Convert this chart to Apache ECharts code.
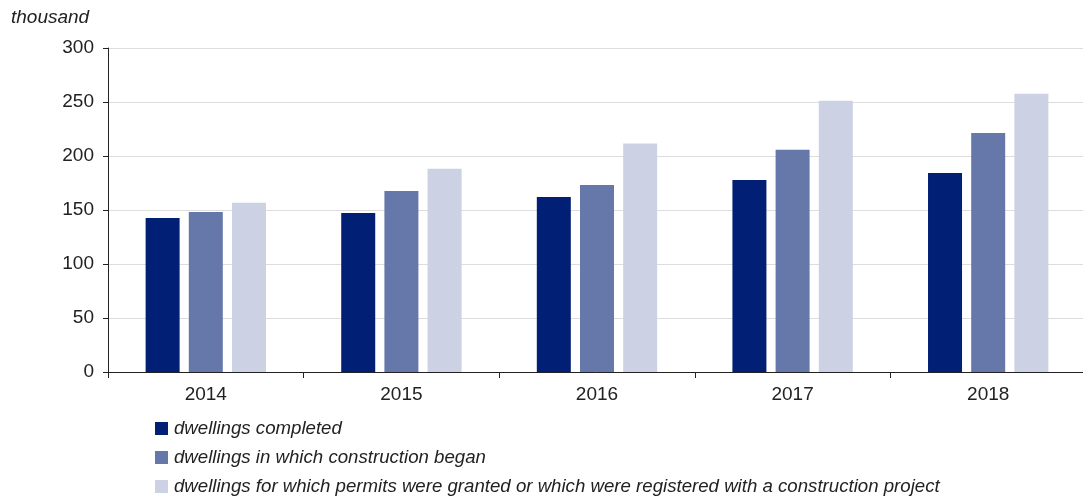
<!DOCTYPE html>
<html>
<head>
<meta charset="utf-8">
<script src="https://cdn.jsdelivr.net/npm/echarts@6/dist/echarts.min.js"></script>
<style>
  html, body { margin: 0; padding: 0; background: #fff; }
  #chart { width: 1083px; height: 497px; }
</style>
</head>
<body>
<div id="chart"></div>
<script>
const years = ['2014', '2015', '2016', '2017', '2018'];
const completed = [142.6, 147.2, 162.0, 177.8, 184.3];
const begun = [148.1, 167.6, 173.2, 205.9, 221.4];
const permitted = [156.8, 188.3, 211.5, 251.1, 257.6];
const seriesNames = [
    'dwellings completed',
    'dwellings in which construction began',
    'dwellings for which permits were granted or which were registered with a construction project'
];

const colors = ['#001f75', '#6677aa', '#ccd1e3'];
const font = 'Liberation Sans, Arial, sans-serif';

const myChart = echarts.init(document.getElementById('chart'));
const option = {
    color: colors,
    animation: false,
    textStyle: { fontFamily: font },
    title: {
        text: 'thousand',
        left: 6,
        top: 3,
        textStyle: { fontSize: 19, fontStyle: 'italic', fontWeight: 'normal', color: '#222', fontFamily: font }
    },
    legend: {
        orient: 'vertical',
        left: 150,
        top: 414,
        height: 90,
        itemWidth: 13,
        itemHeight: 13,
        itemGap: 10,
        icon: 'rect',
        data: seriesNames,
        textStyle: { fontSize: 18.65, fontStyle: 'italic', color: '#222', fontFamily: font, padding: [0, 0, 0, 1] }
    },
    grid: { left: 108, right: -3, top: 48, bottom: 125, containLabel: false, outerBoundsMode: 'none' },
    xAxis: {
        type: 'category',
        data: years,
        axisLine: { lineStyle: { color: '#222', width: 1 } },
        axisTick: { show: true, length: 6, lineStyle: { color: '#222' } },
        axisLabel: { fontSize: 19, color: '#222', margin: 13, fontFamily: font }
    },
    yAxis: {
        type: 'value',
        min: 0,
        max: 300,
        interval: 50,
        axisLine: { show: true, lineStyle: { color: '#222', width: 1 } },
        axisTick: { show: true, length: 5, lineStyle: { color: '#222' } },
        axisLabel: { fontSize: 19, color: '#222', margin: 14, fontFamily: font },
        splitLine: { lineStyle: { color: '#dddddd', width: 1 } }
    },
    series: [
        { name: seriesNames[0], type: 'bar', data: completed, barWidth: 34, barGap: '27%' },
        { name: seriesNames[1], type: 'bar', data: begun, barWidth: 34, barGap: '27%' },
        { name: seriesNames[2], type: 'bar', data: permitted, barWidth: 34, barGap: '27%' }
    ]
};

myChart.setOption(option);
</script>
</body>
</html>
